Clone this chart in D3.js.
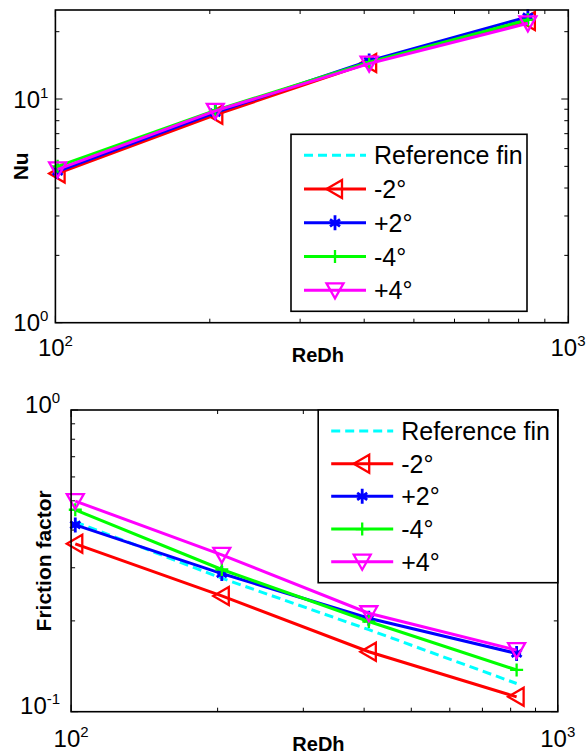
<!DOCTYPE html>
<html><head><meta charset="utf-8">
<script src="https://cdn.jsdelivr.net/npm/d3@7"></script>
<style>body{margin:0;background:#fff}svg{display:block}</style>
</head><body>
<script>
// ---- data ----
const seriesNames = ["Reference fin", "-2°", "+2°", "-4°", "+4°"];
const reDhNu = [101, 205, 409, 834];
const nuRef = [4.8, 8.7, 14.6, 22.6];
const nuM2 = [4.65, 8.5, 14.5, 22.3];
const nuP2 = [4.75, 8.7, 14.8, 23.3];
const nuM4 = [5.0, 8.9, 14.6, 22.6];
const nuP4 = [4.85, 8.85, 14.4, 21.8];
const reDhF = [102, 204, 409, 823];
const fRef = [0.426, 0.277, 0.187, 0.124];
const fM2 = [0.36, 0.242, 0.158, 0.112];
const fP2 = [0.416, 0.287, 0.204, 0.156];
const fM4 = [0.467, 0.296, 0.199, 0.1375];
const fP4 = [0.499, 0.331, 0.212, 0.160];

// ---- styles ----
const colors = ["#00ffff", "#ff0000", "#0000ff", "#00ff00", "#ff00ff"];
const markers = [null, "triLeft", "star", "plus", "triDown"];
const markerPaths = {
  triLeft: "M-8.5,0L7,-9L7,9Z",
  triDown: "M-8.5,-7L8.5,-7L0,8Z",
  plus: "M-6.5,0H6.5M0,-6.5V6.5",
  star: "M0,-7.5V7.5M-5,-3.5L5,3.5M-5,3.5L5,-3.5M-4.5,0H4.5"
};
const FONT = "'Liberation Sans', Arial, sans-serif";

const W = 587, H = 756;
const svg = d3.select("body").append("svg").attr("width", W).attr("height", H);

const panels = [
  { x: reDhNu, ys: [nuRef, nuM2, nuP2, nuM4, nuP4], yDomain: [1, 25],
    left: 55.4, right: 568.3, top: 10, bottom: 322.7,
    legend: { x: 291, y: 134.3, w: 236, h: 177 },
    ylabel: "Nu", ylabelX: 28, tickGap: 7, yLabDy: 8.5, xLabDy: 33, titleDx: 6 },
  { x: reDhF, ys: [fRef, fM2, fP2, fM4, fP4], yDomain: [0.1, 1],
    left: 71.1, right: 557.8, top: 410, bottom: 711.7,
    legend: { x: 318.2, y: 410, w: 239.6, h: 172.7 },
    ylabel: "Friction factor", ylabelX: 50.5, tickGap: 11, yLabDy: 2.5, xLabDy: 35, titleDx: 4 }
];

function isPow10(v) { const l = Math.log10(v); return Math.abs(l - Math.round(l)) < 1e-9; }

function powLabel(g, x, y, v, anchor) {
  const e = Math.round(Math.log10(v));
  const t = g.append("text").attr("x", x).attr("y", y)
    .attr("font-family", FONT).attr("font-size", 24).attr("text-anchor", anchor).attr("fill", "#000");
  t.append("tspan").text("10");
  t.append("tspan").attr("font-size", 15).attr("dy", -10).text(String(e));
}

function drawMarker(g, type, cx, cy, color) {
  if (!type) return;
  g.append("path").attr("d", markerPaths[type])
    .attr("transform", `translate(${cx},${cy})`)
    .attr("fill", "none").attr("stroke", color)
    .attr("stroke-width", type === "star" ? 2.8 : 2.3)
    .attr("stroke-linejoin", "miter");
}

panels.forEach(p => {
  const g = svg.append("g");
  const x = d3.scaleLog().domain([100, 1000]).range([p.left, p.right]);
  const y = d3.scaleLog().domain(p.yDomain).range([p.bottom, p.top]);

  // ticks
  const xt = x.ticks(), yt = y.ticks();
  xt.forEach(v => {
    const len = isPow10(v) ? 7 : 4;
    const px = x(v);
    g.append("line").attr("x1", px).attr("x2", px).attr("y1", p.bottom).attr("y2", p.bottom - len).attr("stroke", "#000");
    g.append("line").attr("x1", px).attr("x2", px).attr("y1", p.top).attr("y2", p.top + len).attr("stroke", "#000");
    if (isPow10(v)) powLabel(g, Math.min(px, W - 19), p.bottom + p.xLabDy, v, "middle");
  });
  yt.forEach(v => {
    const len = isPow10(v) ? 7 : 4;
    const py = y(v);
    g.append("line").attr("x1", p.left).attr("x2", p.left + len).attr("y1", py).attr("y2", py).attr("stroke", "#000");
    g.append("line").attr("x1", p.right).attr("x2", p.right - len).attr("y1", py).attr("y2", py).attr("stroke", "#000");
    if (isPow10(v)) powLabel(g, p.left - p.tickGap, py + p.yLabDy, v, "end");
  });

  // series
  const line = d3.line().x(d => x(d[0])).y(d => y(d[1]));
  p.ys.forEach((vals, i) => {
    const pts = p.x.map((xv, j) => [xv, vals[j]]);
    g.append("path").attr("d", line(pts)).attr("fill", "none")
      .attr("stroke", colors[i]).attr("stroke-width", 3)
      .attr("stroke-dasharray", i === 0 ? "9,5" : null);
    pts.forEach(d => drawMarker(g, markers[i], x(d[0]), y(d[1]), colors[i]));
  });

  // frame
  g.append("rect").attr("x", p.left).attr("y", p.top)
    .attr("width", p.right - p.left).attr("height", p.bottom - p.top)
    .attr("fill", "none").attr("stroke", "#000").attr("stroke-width", 1.6);

  // legend
  const L = p.legend;
  const lg = g.append("g");
  lg.append("rect").attr("x", L.x).attr("y", L.y).attr("width", L.w).attr("height", L.h)
    .attr("fill", "#fff").attr("stroke", "#000").attr("stroke-width", 1.6);
  const step = (L.h - 42) / 4;
  seriesNames.forEach((name, i) => {
    const cy = L.y + 21 + i * step;
    lg.append("line").attr("x1", L.x + 13).attr("x2", L.x + 75).attr("y1", cy).attr("y2", cy)
      .attr("stroke", colors[i]).attr("stroke-width", 3)
      .attr("stroke-dasharray", i === 0 ? "9,5" : null);
    drawMarker(lg, markers[i], L.x + 44, cy, colors[i]);
    lg.append("text").attr("x", L.x + 83).attr("y", cy + 9)
      .attr("font-family", FONT).attr("font-size", 25).attr("fill", "#000").text(name);
  });

  // axis labels
  g.append("text").attr("x", (p.left + p.right) / 2 + p.titleDx).attr("y", p.bottom + 39)
    .attr("text-anchor", "middle").attr("font-family", FONT).attr("font-weight", "bold")
    .attr("font-size", 20).text("ReDh");
  const cyMid = (p.top + p.bottom) / 2;
  g.append("text").attr("transform", `translate(${p.ylabelX},${cyMid}) rotate(-90)`)
    .attr("text-anchor", "middle").attr("font-family", FONT).attr("font-weight", "bold")
    .attr("font-size", 21).text(p.ylabel);
});
</script>
</body></html>
